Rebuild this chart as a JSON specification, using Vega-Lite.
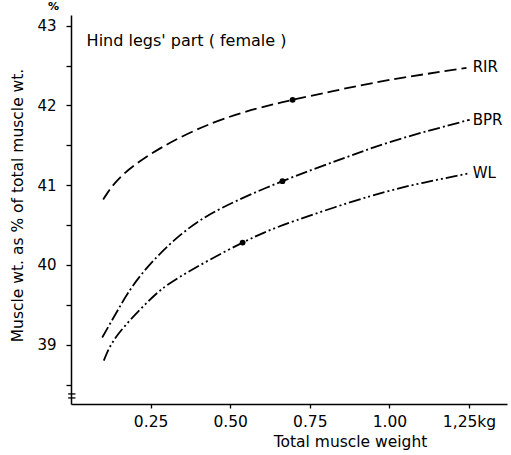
{
  "$schema": "https://vega.github.io/schema/vega-lite/v6.json",
  "autosize": "none",
  "width": 436,
  "height": 389,
  "padding": {"left": 71, "top": 15, "right": 4, "bottom": 51},
  "background": "white",
  "config": {
    "view": {"stroke": null},
    "font": "DejaVu Sans",
    "axis": {"domainColor": "black", "domainWidth": 1.5, "tickColor": "black", "tickWidth": 1.3, "labelColor": "black", "titleColor": "black", "grid": false, "labelFont": "DejaVu Sans", "titleFont": "DejaVu Sans", "titleFontWeight": "normal"}
  },
  "datasets": {
    "curves": [
      {"series": "RIR", "w": 0.101, "pct": 40.82},
      {"series": "RIR", "w": 0.163, "pct": 41.13},
      {"series": "RIR", "w": 0.288, "pct": 41.48},
      {"series": "RIR", "w": 0.445, "pct": 41.78},
      {"series": "RIR", "w": 0.584, "pct": 41.96},
      {"series": "RIR", "w": 0.696, "pct": 42.07},
      {"series": "RIR", "w": 0.823, "pct": 42.18},
      {"series": "RIR", "w": 1.001, "pct": 42.32},
      {"series": "RIR", "w": 1.242, "pct": 42.47},
      {"series": "BPR", "w": 0.098, "pct": 39.09},
      {"series": "BPR", "w": 0.148, "pct": 39.44},
      {"series": "BPR", "w": 0.221, "pct": 39.88},
      {"series": "BPR", "w": 0.342, "pct": 40.37},
      {"series": "BPR", "w": 0.477, "pct": 40.72},
      {"series": "BPR", "w": 0.664, "pct": 41.05},
      {"series": "BPR", "w": 0.844, "pct": 41.32},
      {"series": "BPR", "w": 1.001, "pct": 41.54},
      {"series": "BPR", "w": 1.158, "pct": 41.72},
      {"series": "BPR", "w": 1.252, "pct": 41.82},
      {"series": "WL", "w": 0.103, "pct": 38.8},
      {"series": "WL", "w": 0.148, "pct": 39.13},
      {"series": "WL", "w": 0.242, "pct": 39.54},
      {"series": "WL", "w": 0.342, "pct": 39.85},
      {"series": "WL", "w": 0.539, "pct": 40.28},
      {"series": "WL", "w": 0.708, "pct": 40.56},
      {"series": "WL", "w": 0.938, "pct": 40.86},
      {"series": "WL", "w": 1.106, "pct": 41.03},
      {"series": "WL", "w": 1.252, "pct": 41.15}
    ],
    "dots": [
      {"series": "RIR", "w": 0.696, "pct": 42.07},
      {"series": "BPR", "w": 0.664, "pct": 41.05},
      {"series": "WL", "w": 0.539, "pct": 40.28}
    ],
    "ends": [
      {"series": "RIR", "w": 1.252, "pct": 42.48},
      {"series": "BPR", "w": 1.252, "pct": 41.82},
      {"series": "WL", "w": 1.252, "pct": 41.15}
    ],
    "notes": [
      {"text": "Hind legs' part ( female )", "w": 0.049, "pct": 42.74}
    ],
    "unit": [
      {"text": "%", "w": -0.055, "pct": 43.24}
    ],
    "brk": [
      {"w1": -0.009, "w2": 0.014, "pct": 38.382},
      {"w1": -0.009, "w2": 0.014, "pct": 38.332}
    ]
  },
  "layer": [
    {
      "data": {"name": "curves"},
      "mark": {"type": "line", "interpolate": "natural", "color": "black", "strokeWidth": 1.8, "clip": false},
      "encoding": {
        "x": {
          "field": "w", "type": "quantitative",
          "scale": {"domain": [0, 1.3693], "nice": false, "zero": false},
          "axis": {
            "values": [0.25, 0.5, 0.75, 1, 1.25],
            "labelExpr": "datum.value == 1.25 ? '1,25kg' : format(datum.value, '.2f')",
            "tickSize": 4, "labelPadding": 6, "labelFontSize": 15.5,
            "title": "Total muscle weight", "titleFontSize": 15.5,
            "titleX": 279, "titleY": 42, "titleBaseline": "alphabetic"
          }
        },
        "y": {
          "field": "pct", "type": "quantitative",
          "scale": {"domain": [38.256, 43.134], "nice": false, "zero": false},
          "axis": {
            "values": [38.5, 39, 39.5, 40, 40.5, 41, 41.5, 42, 42.5, 43],
            "labelExpr": "datum.value % 1 == 0 ? format(datum.value, 'd') : ''",
            "tickSize": 5, "labelPadding": 10, "labelFontSize": 15,
            "title": "Muscle wt. as % of total muscle wt.", "titleFontSize": 15.5,
            "titleAngle": -90, "titleX": -54, "titleY": 190, "titleAlign": "center", "titleBaseline": "middle"
          }
        },
        "detail": {"field": "series"},
        "strokeDash": {
          "field": "series", "type": "nominal",
          "scale": {"domain": ["RIR", "BPR", "WL"], "range": [[12, 5], [12, 3, 2, 3], [12, 3, 2, 3, 2, 3]]},
          "legend": null
        }
      }
    },
    {
      "data": {"name": "dots"},
      "mark": {"type": "circle", "color": "black", "size": 34, "opacity": 1},
      "encoding": {
        "x": {"field": "w", "type": "quantitative"},
        "y": {"field": "pct", "type": "quantitative"}
      }
    },
    {
      "data": {"name": "ends"},
      "mark": {"type": "text", "align": "left", "baseline": "middle", "dx": 3, "fontSize": 15, "color": "black", "font": "DejaVu Sans"},
      "encoding": {
        "x": {"field": "w", "type": "quantitative"},
        "y": {"field": "pct", "type": "quantitative"},
        "text": {"field": "series"}
      }
    },
    {
      "data": {"name": "notes"},
      "mark": {"type": "text", "align": "left", "baseline": "alphabetic", "fontSize": 16, "color": "black", "font": "DejaVu Sans"},
      "encoding": {
        "x": {"field": "w", "type": "quantitative"},
        "y": {"field": "pct", "type": "quantitative"},
        "text": {"field": "text"}
      }
    },
    {
      "data": {"name": "unit"},
      "mark": {"type": "text", "align": "center", "baseline": "middle", "fontSize": 11, "fontWeight": "bold", "color": "black", "font": "DejaVu Sans", "clip": false},
      "encoding": {
        "x": {"field": "w", "type": "quantitative"},
        "y": {"field": "pct", "type": "quantitative"},
        "text": {"field": "text"}
      }
    },
    {
      "data": {"name": "brk"},
      "mark": {"type": "rule", "color": "black", "strokeWidth": 1.3, "clip": false},
      "encoding": {
        "x": {"field": "w1", "type": "quantitative"},
        "x2": {"field": "w2"},
        "y": {"field": "pct", "type": "quantitative"}
      }
    }
  ]
}
